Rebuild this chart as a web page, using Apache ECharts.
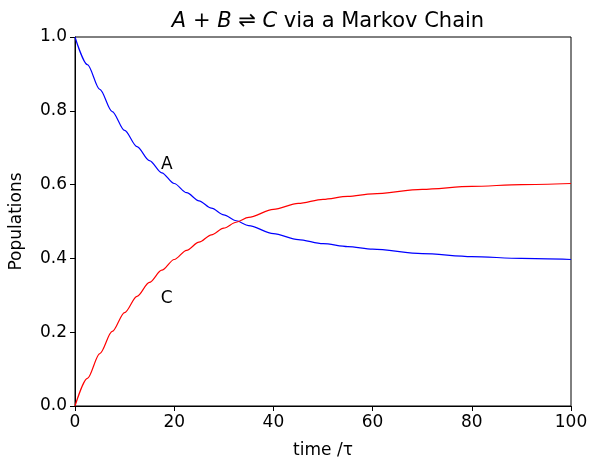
<!DOCTYPE html>
<html>
<head>
<meta charset="utf-8">
<script src="https://cdn.jsdelivr.net/npm/echarts@6/dist/echarts.min.js"></script>
<style>html,body{margin:0;padding:0;background:#fff}#main{width:599px;height:471px}</style>
</head>
<body>
<div id="main"></div>
<script>
// values
var times = [0, 2.5, 5, 7.5, 10, 12.5, 15, 17.5, 20, 22.5, 25, 27.5, 30, 32.5, 35, 40, 45, 50, 55, 60, 70, 80, 90, 100];
var popA = [1.0, 0.925, 0.858, 0.798, 0.747, 0.703, 0.665, 0.632, 0.603, 0.578, 0.556, 0.536, 0.518, 0.502, 0.489, 0.467, 0.451, 0.440, 0.432, 0.425, 0.413, 0.405, 0.400, 0.397];
var popC = [0.0, 0.075, 0.142, 0.202, 0.253, 0.297, 0.335, 0.368, 0.397, 0.422, 0.444, 0.464, 0.482, 0.498, 0.511, 0.533, 0.549, 0.560, 0.568, 0.575, 0.587, 0.595, 0.600, 0.603];
var xTicks = [0, 20, 40, 60, 80, 100];

var chart = echarts.init(document.getElementById('main'));
var font = 'DejaVu Sans';
function pairs(ys) { return times.map(function (t, i) { return [t, ys[i]]; }); }

chart.setOption({
  animation: false,
  textStyle: {fontFamily: font},
  title: {
    left: 323, top: 6, textAlign: 'center',
    text: '{i|A} + {i|B} ⇌ {i|C} via a Markov Chain',
    textStyle: {
      fontSize: 21, fontWeight: 'normal', color: '#000', fontFamily: font,
      rich: {i: {fontSize: 21, fontStyle: 'italic', fontFamily: font, color: '#000'}}
    }
  },
  grid: {left: 75, right: 28, top: 37, bottom: 65, show: true, borderColor: '#000', borderWidth: 1},
  xAxis: {
    type: 'value', min: 0, max: 100, interval: 20,
    name: 'time /τ', nameLocation: 'middle', nameGap: 36,
    nameTextStyle: {fontSize: 17, color: '#000'},
    axisLine: {lineStyle: {color: '#000'}},
    axisTick: {show: true, length: 5, lineStyle: {color: '#000'}},
    axisLabel: {fontSize: 17, color: '#000', margin: 8, formatter: function (v) { return xTicks.indexOf(v) >= 0 ? String(v) : ''; }},
    splitLine: {show: false}
  },
  yAxis: {
    type: 'value', min: 0, max: 1, interval: 0.2,
    name: 'Populations', nameLocation: 'middle', nameGap: 50,
    nameTextStyle: {fontSize: 17, color: '#000'},
    axisLine: {show: true, lineStyle: {color: '#000'}},
    axisTick: {show: true, length: 5, lineStyle: {color: '#000'}},
    axisLabel: {fontSize: 17, color: '#000', margin: 8, formatter: function (v) { return v.toFixed(1); }},
    splitLine: {show: false}
  },
  series: [
    {type: 'line', data: pairs(popA), smooth: 0.3, smoothMonotone: 'x', showSymbol: false, lineStyle: {color: '#0000ff', width: 1.2},
     markPoint: {symbol: 'circle', symbolSize: 0, label: {show: true, formatter: 'A', fontSize: 17, color: '#000'},
       data: [{coord: [18.5, 0.655]}]}},
    {type: 'line', data: pairs(popC), smooth: 0.3, smoothMonotone: 'x', showSymbol: false, lineStyle: {color: '#ff0000', width: 1.2},
     markPoint: {symbol: 'circle', symbolSize: 0, label: {show: true, formatter: 'C', fontSize: 17, color: '#000'},
       data: [{coord: [18.5, 0.29]}]}}
  ]
});
</script>
</body>
</html>
